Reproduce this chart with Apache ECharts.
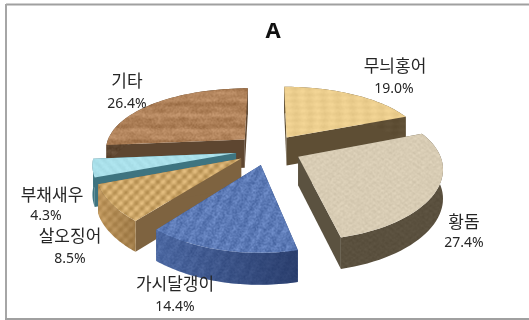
<!DOCTYPE html>
<html>
<head>
<meta charset="utf-8">
<style>html,body{margin:0;padding:0;background:#fff}#main{width:529px;height:320px}</style>
<script src="https://cdn.jsdelivr.net/npm/echarts@6/dist/echarts.min.js"></script>
</head>
<body>
<div id="main"></div>
<script>
// Catch composition, in percent, clockwise from twelve o'clock
const categories = ['무늬홍어', '황돔', '가시달갱이', '살오징어', '부채새우', '기타'];
const shares = [19.0, 27.4, 14.4, 8.5, 4.3, 26.4];

// Label centres: [name x, name y, percent x, percent y]
const labelSpots = [
  [395, 66, 394, 89],
  [464, 222, 464, 243],
  [175, 284, 175, 307],
  [70, 236, 70, 259],
  [52, 195, 46, 216],
  [127, 81, 127, 104]
];

// Painting order, farthest slice first (slice indexes)
const paintOrder = [0, 5, 4, 3, 2, 1];

// Surface colours per slice
const topBases = [[236, 206, 142], [216, 204, 180], [92, 122, 182], [204, 166, 104], [170, 224, 234], [176, 130, 90]];
const rimBases = [[94, 78, 52], [90, 80, 62], [76, 104, 162], [190, 150, 92], [62, 116, 128], [94, 70, 48]];
const cutColors = ['#5E4E34', '#5B5240', '#3A5488', '#7E6340', '#3E7480', '#5E4630'];

// Pie geometry
const CX = 268.5, CY = 149.5, R = 140, TILT = 0.46, PERSP_X = 0.15, PERSP_Y = 0.19, DEPTH = 28.5, EXPLODE = 33;

function project(X, Y, z) {
  const sx = 1 / (1 + PERSP_X * Y / R);
  const sy = 1 / (1 + PERSP_Y * Y / R);
  return [CX + X * sx, CY - Y * TILT * sy + z * (1 + (sy - 1) * 0.4)];
}

// Repeatable grain for the surface textures
function grain(x, y) {
  const v = Math.sin(x * 12.9898 + y * 78.233) * 43758.5453;
  return v - Math.floor(v);
}
function softGrain(x, y) {
  return (grain(x, y) + grain(x + 1, y) + grain(x, y + 1) + grain(x + 1, y + 1)) / 4;
}
const TAU = Math.PI * 2, TILE = 128;
const wave = (c) => Math.sin(TAU * c / TILE);
const surfaces = [
  (x, y) => 4 * wave(x * 9 + 8 * wave(y * 3)) + 3 * wave(y * 20) + 6 * (softGrain(x, y) - 0.5),
  (x, y) => 4 * wave(y * 22) * wave(x * 16) + 16 * (softGrain(x, y) - 0.5),
  (x, y) => 7 * wave(x * 10 + y * 5) + 46 * (softGrain(x, y) - 0.5),
  (x, y) => 14 * wave((x + y) * 12) + 9 * wave((x - y) * 12) + 10 * (softGrain(x, y) - 0.5),
  (x, y) => 4 * wave((x - y) * 12) + 8 * (softGrain(x, y) - 0.5),
  (x, y) => 9 * wave(y * 7 + 14 * wave(x * 3) + 6 * wave(x * 8 + y * 2)) + 6 * wave(y * 17 + 9 * wave(x * 5)) + 30 * (softGrain(x, y) - 0.5)
];

function makeTexture(base, fn, scale) {
  const c = document.createElement('canvas');
  c.width = c.height = TILE;
  const g = c.getContext('2d');
  const img = g.createImageData(TILE, TILE);
  for (let y = 0; y < TILE; y++) {
    for (let x = 0; x < TILE; x++) {
      const d = fn(x, y) * scale, i = (y * TILE + x) * 4;
      img.data[i] = base[0] + d;
      img.data[i + 1] = base[1] + d;
      img.data[i + 2] = base[2] + d;
      img.data[i + 3] = 255;
    }
  }
  g.putImageData(img, 0, 0);
  return { image: c, repeat: 'repeat' };
}
const topTextures = topBases.map((b, i) => makeTexture(b, surfaces[i], 1));
const rimTextures = rimBases.map((b, i) => makeTexture(b, surfaces[i], 0.6));

const total = shares.reduce((a, b) => a + b, 0);

function renderSlice(params, api) {
  const i = params.dataIndex;
  const before = shares.slice(0, i).reduce((a, b) => a + b, 0);
  const a0 = before / total * TAU;
  const a1 = (before + api.value(0)) / total * TAU;
  const mid = (a0 + a1) / 2;
  const ox = EXPLODE * Math.sin(mid), oy = EXPLODE * Math.cos(mid);

  const arcTop = [], arcBottom = [];
  const steps = 40;
  for (let k = 0; k <= steps; k++) {
    const a = a0 + (a1 - a0) * k / steps;
    const X = ox + R * Math.sin(a), Y = oy + R * Math.cos(a);
    arcTop.push(project(X, Y, 0));
    arcBottom.push(project(X, Y, DEPTH));
  }
  const apexTop = project(ox, oy, 0), apexBottom = project(ox, oy, DEPTH);
  const z2 = paintOrder.indexOf(i) * 10;
  const poly = (points, fill, dz) => ({
    type: 'polygon', z2: z2 + dz, shape: { points }, style: { fill, stroke: null }
  });

  const children = [
    poly([apexTop, arcTop[0], arcBottom[0], apexBottom], cutColors[i], 0),
    poly([apexTop, arcTop[steps], arcBottom[steps], apexBottom], cutColors[i], 0),
    poly(arcTop.concat(arcBottom.slice().reverse()), rimTextures[i], 1),
    poly([apexTop].concat(arcTop), topTextures[i], 3)
  ];
  if (i === 2) {
    // The blue rim falls into shade towards its right end
    children.push(poly(arcTop.concat(arcBottom.slice().reverse()),
      new echarts.graphic.LinearGradient(0, 0, 1, 0, [
        { offset: 0, color: 'rgba(20,35,75,0)' },
        { offset: 1, color: 'rgba(20,35,75,0.6)' }
      ]), 2));
  }
  if (i === 3) {
    // The woven rim darkens towards the front corner
    children.push(poly(arcTop.concat(arcBottom.slice().reverse()),
      new echarts.graphic.LinearGradient(0, 0, 1, 0, [
        { offset: 0, color: 'rgba(70,45,15,0)' },
        { offset: 1, color: 'rgba(70,45,15,0.25)' }
      ]), 2));
  }
  const spot = labelSpots[i];
  children.push({
    type: 'text', z2: 200, x: spot[0], y: spot[1],
    style: { text: categories[i], fill: '#262626', font: '17px "Noto Sans CJK KR"', align: 'center', verticalAlign: 'middle' }
  });
  children.push({
    type: 'text', z2: 200, x: spot[2], y: spot[3],
    style: { text: api.value(0).toFixed(1) + '%', fill: '#262626', font: '14px "Noto Sans"', align: 'center', verticalAlign: 'middle' }
  });
  return { type: 'group', children };
}

const chart = echarts.init(document.getElementById('main'), null, { renderer: 'canvas' });
chart.setOption({
  animation: false,
  backgroundColor: '#fff',
  title: {
    text: 'A', left: 268, top: 16, textAlign: 'center',
    textStyle: { fontFamily: 'Noto Sans', fontSize: 22, fontWeight: 'bold', color: '#111' }
  },
  graphic: [
    { type: 'line', shape: { x1: 6, y1: 4.5, x2: 529, y2: 4.5 }, style: { stroke: '#A0A0A0', lineWidth: 2 } },
    { type: 'line', shape: { x1: 6, y1: 4, x2: 6, y2: 319 }, style: { stroke: '#A6A6A6', lineWidth: 2 } },
    { type: 'line', shape: { x1: 5, y1: 319, x2: 529, y2: 319 }, style: { stroke: '#A0A0A0', lineWidth: 2 } }
  ],
  series: [{
    type: 'custom',
    coordinateSystem: 'none',
    silent: true,
    renderItem: renderSlice,
    data: shares.map((v, i) => ({ name: categories[i], value: [v] }))
  }]
});
</script>
</body>
</html>
